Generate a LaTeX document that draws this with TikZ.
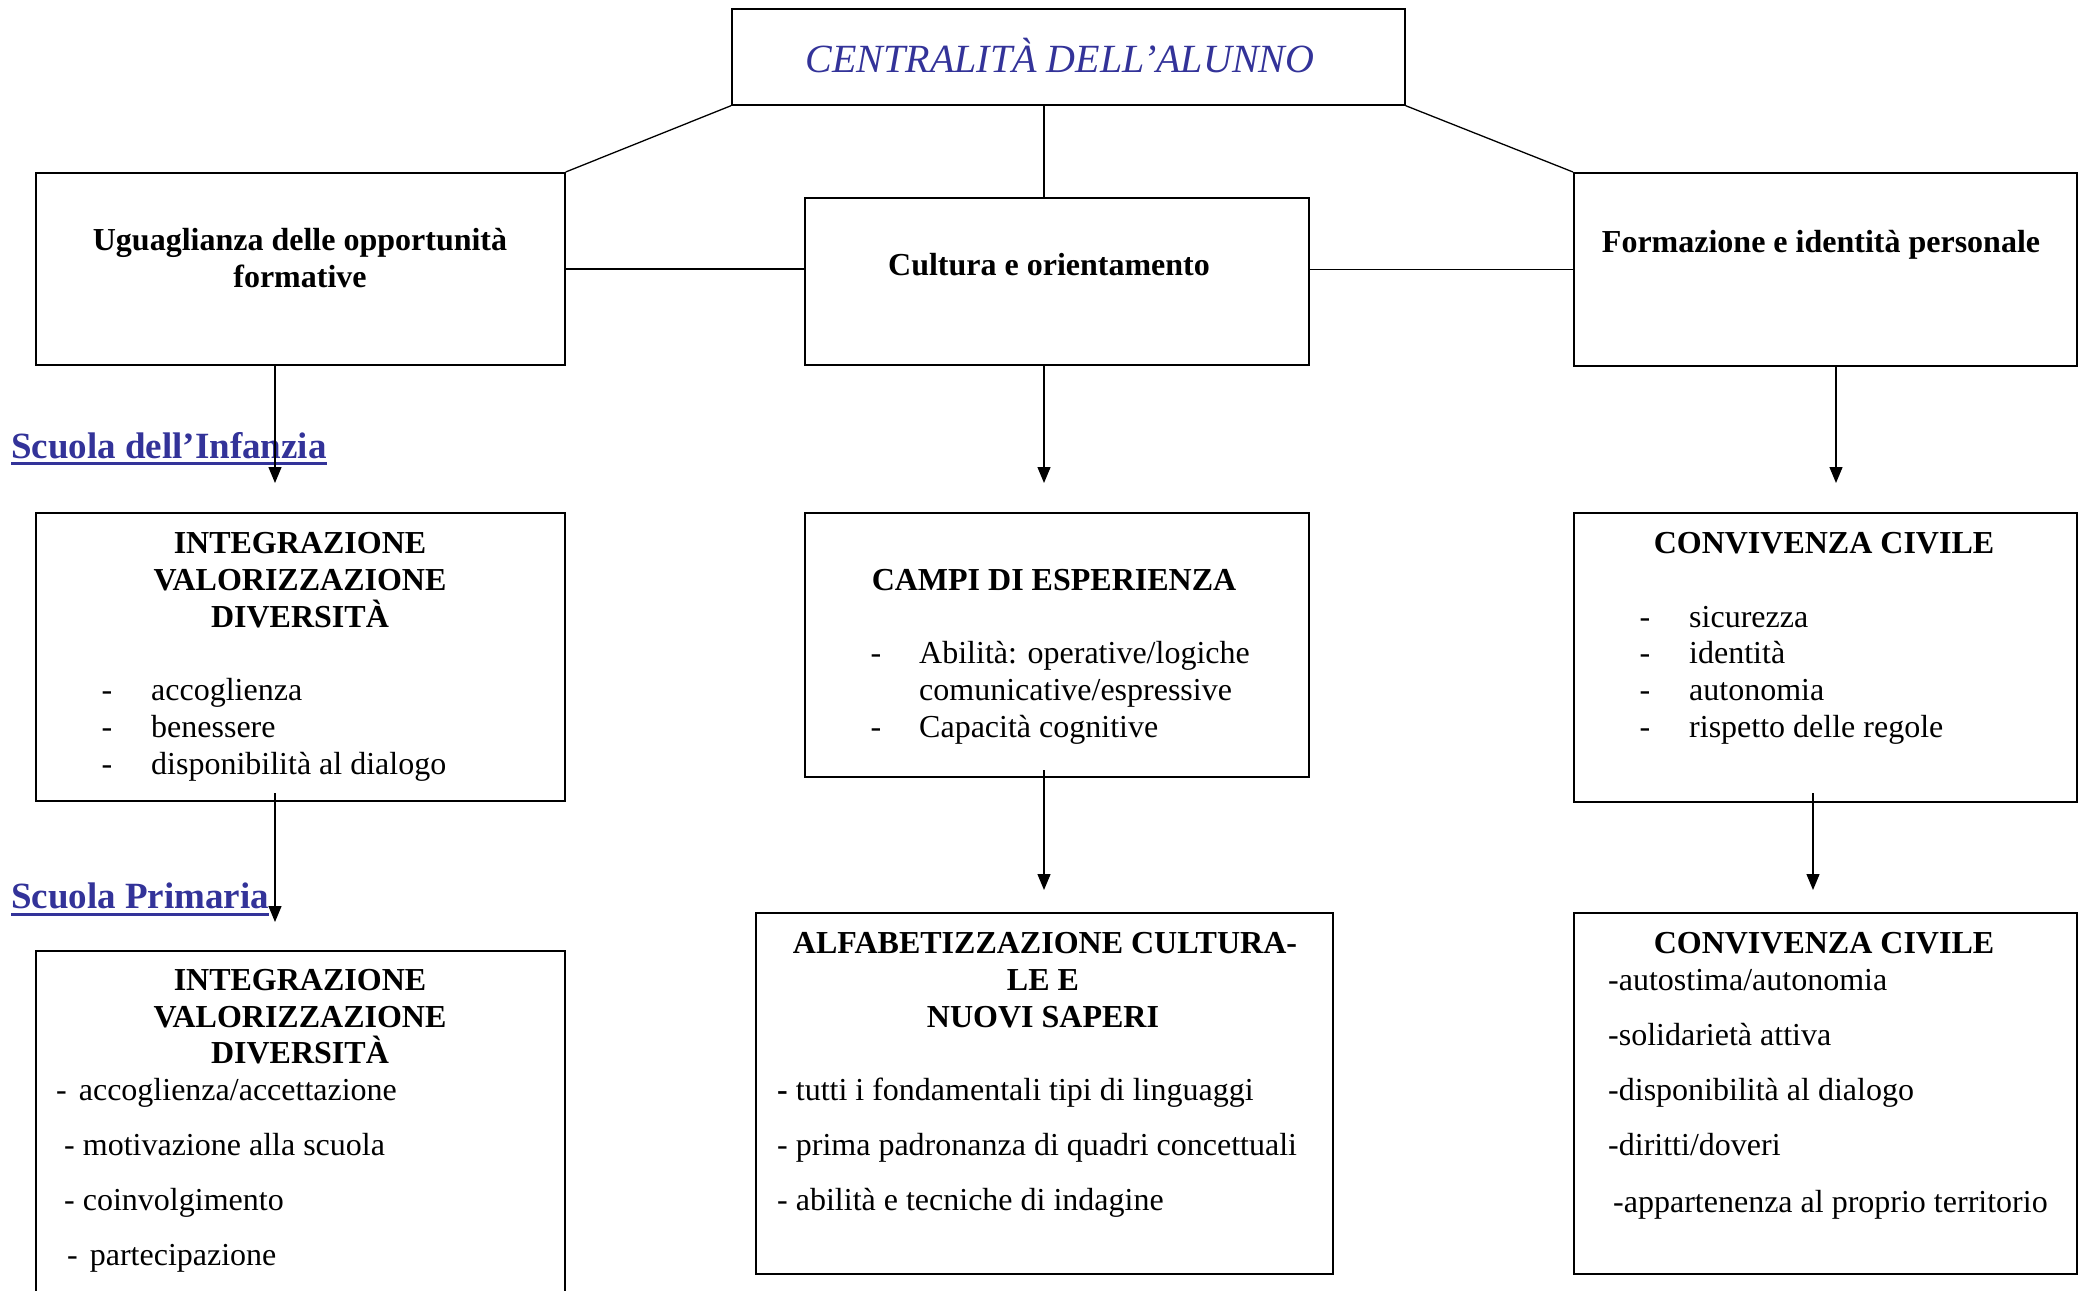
\documentclass[tikz,border=0pt]{standalone}
\usepackage{fontspec}
\setmainfont{Liberation Serif}
\usetikzlibrary{arrows.meta}
\definecolor{hblue}{RGB}{51,51,153}
\begin{document}
\begin{tikzpicture}[x=1pt,y=-1pt,
  box/.style={draw,line width=1.7pt,inner sep=0pt,anchor=north west},
  conn/.style={line width=1.3pt},
  arr/.style={line width=1.3pt,-{Triangle[length=16pt,width=13pt]}},
  bt/.style={font=\fontsize{32}{37}\selectfont\bfseries,inner sep=0pt,anchor=base},
  nt/.style={font=\fontsize{32}{37}\selectfont,inner sep=0pt,anchor=base west},
  ntb/.style={font=\fontsize{32}{37}\selectfont,inner sep=0pt,anchor=base},
  sc/.style={font=\fontsize{37}{44}\selectfont\bfseries,text=hblue,inner sep=0pt,anchor=base west},
]
\useasboundingbox (0,0) rectangle (2087,1290);
\fill[white] (0,0) rectangle (2087,1290);

% boxes
\node[box,minimum width=673pt,minimum height=96pt] (top) at (731,8) {};
\node[box,minimum width=529pt,minimum height=192pt] (uq) at (35,172) {};
\node[box,minimum width=504pt,minimum height=167pt] (co) at (804,197) {};
\node[box,minimum width=503pt,minimum height=193pt] (fi) at (1573,172) {};
\node[box,minimum width=529pt,minimum height=288pt] (b1) at (35,512) {};
\node[box,minimum width=504pt,minimum height=264pt] (b2) at (804,512) {};
\node[box,minimum width=503pt,minimum height=289pt] (b3) at (1573,512) {};
\node[box,minimum width=529pt,minimum height=370pt] (c1) at (35,950) {};
\node[box,minimum width=577pt,minimum height=361pt] (c2) at (755,912) {};
\node[box,minimum width=503pt,minimum height=361pt] (c3) at (1573,912) {};

% title
\node[font=\fontsize{40}{46}\selectfont\itshape,text=hblue,inner sep=0pt,anchor=base] (tt) at (1060,72) {CENTRALITÀ DELL’ALUNNO};

% first row texts
\node[bt] (uq1) at (300,250) {Uguaglianza delle opportunità};
\node[bt] (uq2) at (300,287) {formative};
\node[bt] (co1) at (1049,275) {Cultura e orientamento};
\node[bt] (fi1) at (1821,252) {Formazione e identità personale};

% section labels
\node[sc] (si) at (11,458) {Scuola dell’Infanzia};
\draw[hblue,line width=3pt] ([yshift=-5pt]si.south west) -- ([yshift=-5pt]si.south east);
\node[sc] (sp) at (11,908) {Scuola Primaria};
\draw[hblue,line width=3pt] ([yshift=-6pt]sp.south west) -- ([yshift=-6pt]sp.south east);

% connectors
\coordinate (xc) at (1044,0);
\draw[conn] (top.south west) -- (uq.north east);
\draw[conn] (top.south east) -- (fi.north west);
\draw[conn] (top.south -| xc) -- (co.north -| xc);
\draw[conn] (uq.east) -- (uq.east -| co.west);
\draw[conn] (fi.west -| co.east) -- (fi.west);

\coordinate (a1) at (275,483);
\coordinate (a2) at (1044,483);
\coordinate (a3) at (1836,483);
\draw[arr] (uq.south -| a1) -- (a1);
\draw[arr] (co.south -| a2) -- (a2);
\draw[arr] (fi.south -| a3) -- (a3);

\coordinate (s4) at (275,793);
\coordinate (a4) at (275,922);
\coordinate (s5) at (1044,770);
\coordinate (a5) at (1044,890);
\coordinate (s6) at (1813,793);
\coordinate (a6) at (1813,890);
\draw[arr] (s4) -- (a4);
\draw[arr] (s5) -- (a5);
\draw[arr] (s6) -- (a6);

% b1
\node[bt] (b1h1) at (300,553) {INTEGRAZIONE};
\node[bt] (b1h2) at (300,590) {VALORIZZAZIONE};
\node[bt] (b1h3) at (300,627) {DIVERSITÀ};
\node[ntb] (b1d1) at (107,700) {-};
\node[ntb] (b1d2) at (107,737) {-};
\node[ntb] (b1d3) at (107,774) {-};
\node[nt] (b1t1) at (151,700) {accoglienza};
\node[nt] (b1t2) at (151,737) {benessere};
\node[nt] (b1t3) at (151,774) {disponibilità al dialogo};

% b2
\node[bt] (b2h1) at (1054,590) {CAMPI DI ESPERIENZA};
\node[ntb] (b2d1) at (876,663) {-};
\node[ntb] (b2d2) at (876,737) {-};
\node[nt] (b2t1) at (919,663) {Abilità: operative/logiche};
\node[nt] (b2t2) at (919,700) {comunicative/espressive};
\node[nt] (b2t3) at (919,737) {Capacità cognitive};

% b3
\node[bt] (b3h1) at (1824,553) {CONVIVENZA CIVILE};
\node[ntb] (b3d1) at (1645,627) {-};
\node[ntb] (b3d2) at (1645,663) {-};
\node[ntb] (b3d3) at (1645,700) {-};
\node[ntb] (b3d4) at (1645,737) {-};
\node[nt] (b3t1) at (1689,627) {sicurezza};
\node[nt] (b3t2) at (1689,663) {identità};
\node[nt] (b3t3) at (1689,700) {autonomia};
\node[nt] (b3t4) at (1689,737) {rispetto delle regole};

% c1
\node[bt] (c1h1) at (300,990) {INTEGRAZIONE};
\node[bt] (c1h2) at (300,1027) {VALORIZZAZIONE};
\node[bt] (c1h3) at (300,1063) {DIVERSITÀ};
\node[nt] (c1t1) at (56,1100) {-\hspace{12pt}accoglienza/accettazione};
\node[nt] (c1t2) at (64,1155) {- motivazione alla scuola};
\node[nt] (c1t3) at (64,1210) {- coinvolgimento};
\node[nt] (c1t4) at (67,1265) {-\hspace{12pt}partecipazione};

% c2
\node[bt] (c2h1) at (1045,953) {ALFABETIZZAZIONE CULTURA-};
\node[bt] (c2h2) at (1043,990) {LE E};
\node[bt] (c2h3) at (1043,1027) {NUOVI SAPERI};
\node[nt] (c2t1) at (777,1100) {\textbf{-} tutti i fondamentali tipi di linguaggi};
\node[nt] (c2t2) at (777,1155) {- prima padronanza di quadri concettuali};
\node[nt] (c2t3) at (777,1210) {- abilità e tecniche di indagine};

% c3
\node[bt] (c3h1) at (1824,953) {CONVIVENZA CIVILE};
\node[nt] (c3t1) at (1608,990) {-autostima/autonomia};
\node[nt] (c3t2) at (1608,1045) {-solidarietà attiva};
\node[nt] (c3t3) at (1608,1100) {-disponibilità al dialogo};
\node[nt] (c3t4) at (1608,1155) {-diritti/doveri};
\node[nt] (c3t5) at (1613,1212) {-appartenenza al proprio territorio};
\end{tikzpicture}
\end{document}
